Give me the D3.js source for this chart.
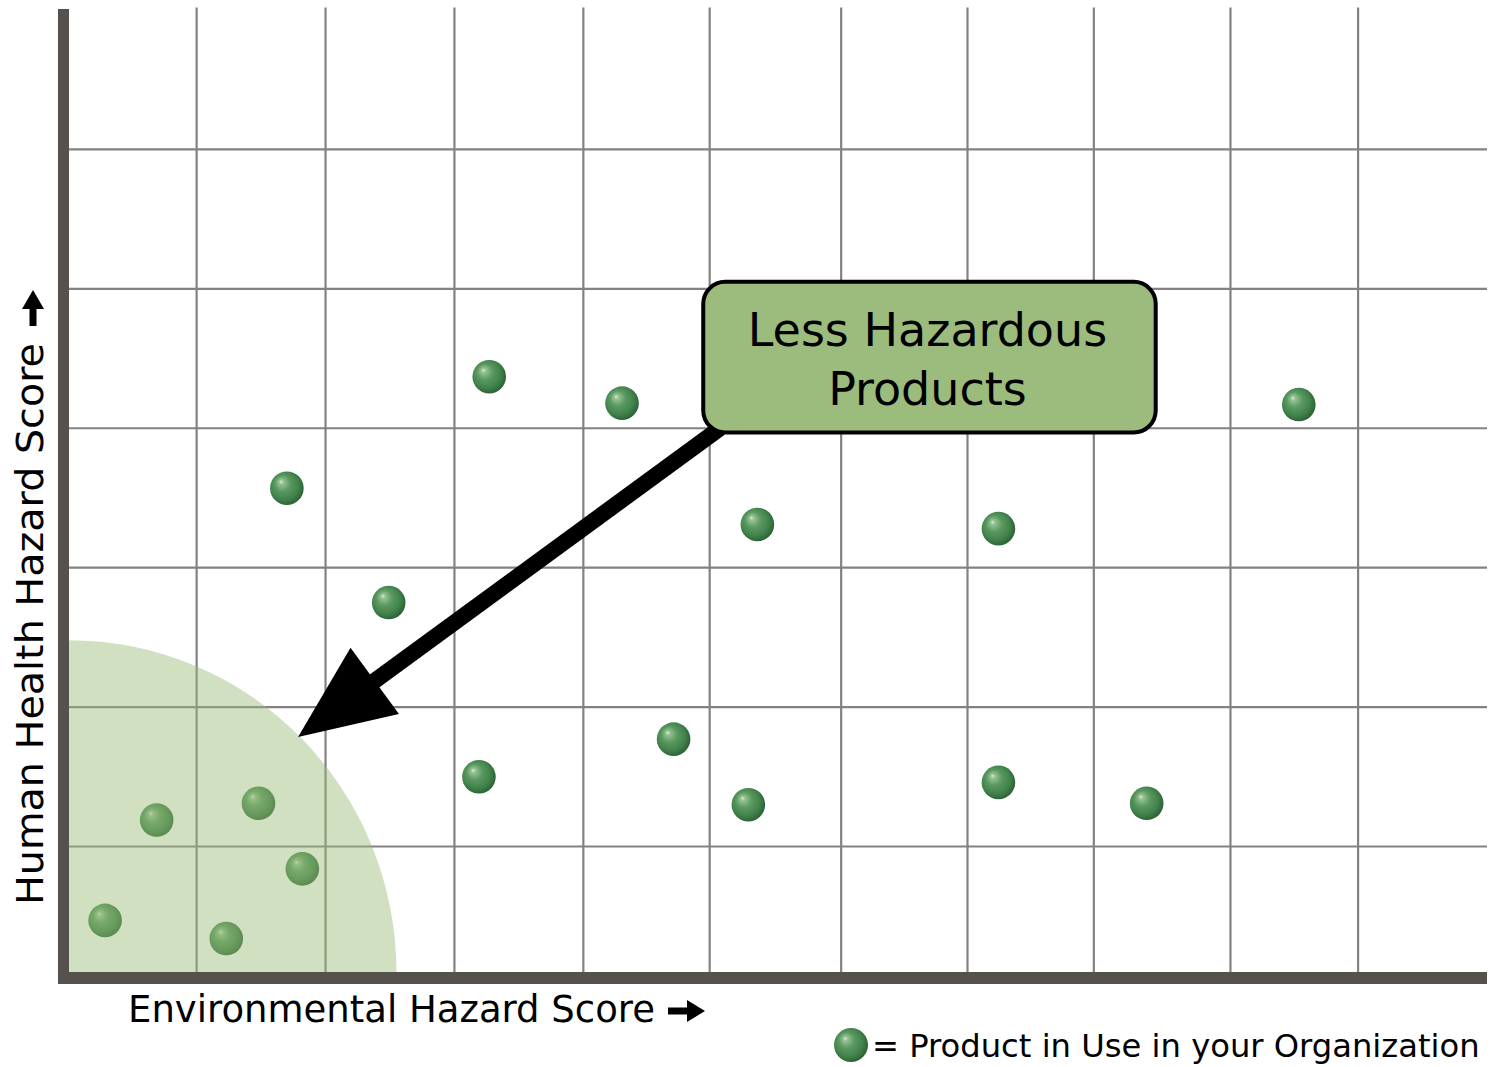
<!DOCTYPE html>
<html>
<head>
<meta charset="utf-8">
<script src="https://cdn.jsdelivr.net/npm/d3@7"></script>
<style>
  html, body { margin: 0; padding: 0; background: #fff; }
  svg { display: block; font-family: "DejaVu Sans", Verdana, sans-serif; }
</style>
</head>
<body>
<svg id="chart" width="1493" height="1067"></svg>
<script>
// ---- data ----
const productsEnv    = [3.26, 4.29, 1.69, 5.34, 7.21, 9.54, 2.48, 4.69, 3.18, 5.27, 7.21, 8.36, 0.68, 1.47, 1.81, 0.28, 1.22];
const productsHealth = [4.37, 4.18, 3.57, 3.31, 3.28, 4.17, 2.75, 1.77, 1.50, 1.30, 1.46, 1.31, 1.19, 1.31, 0.84, 0.47, 0.34];
const xGridValues = [0.99, 1.99, 2.99, 3.99, 4.97, 5.99, 6.97, 7.95, 9.01, 10.0];
const yGridValues = [1, 2, 3, 4, 5, 6];
const xAxisLabel = "Environmental Hazard Score";
const yAxisLabel = "Human Health Hazard Score";
const calloutLines = ["Less Hazardous", "Products"];
const legendLabel = "= Product in Use in your Organization";
const safeZoneRadiusEnv = 2.54;
const safeZoneRadiusHealth = 2.38;
const calloutBox = { x0: 4.92, x1: 8.43, y0: 3.97, y1: 5.05 };
const arrowFrom = [5.05, 4.0];
const arrowTo = [1.777, 1.786];

// ---- layout ----
const svg = d3.select("#chart");
const plot = { left: 69, right: 1487, top: 8, bottom: 972 };
const x = d3.scaleLinear().domain([0, 11]).range([plot.left, plot.right]);
const y = d3.scaleLinear().domain([0.1, 7]).range([plot.bottom, 10]);

const defs = svg.append("defs");
const grad = defs.append("radialGradient").attr("id", "sphere")
  .attr("cx", "45%").attr("cy", "45%").attr("r", "58%")
  .attr("fx", "32%").attr("fy", "30%");
[["0%", "#dcebd9"], ["12%", "#94c191"], ["40%", "#5a9a61"], ["75%", "#40804a"], ["100%", "#2a5e34"]]
  .forEach(([o, c]) => grad.append("stop").attr("offset", o).attr("stop-color", c));
defs.append("clipPath").attr("id", "plotClip").append("rect")
  .attr("x", plot.left).attr("y", plot.top).attr("width", plot.right - plot.left).attr("height", plot.bottom - plot.top);

// grid
const grid = svg.append("g").attr("stroke", "#858081").attr("stroke-width", 2.2);
grid.selectAll("line.v").data(xGridValues).join("line").attr("class", "v")
  .attr("x1", d => x(d)).attr("x2", d => x(d)).attr("y1", 7.5).attr("y2", plot.bottom);
grid.selectAll("line.h").data(yGridValues).join("line").attr("class", "h")
  .attr("x1", plot.left).attr("x2", plot.right).attr("y1", d => y(d)).attr("y2", d => y(d));

// products
const r = 16.8;
svg.append("g").selectAll("circle").data(productsEnv.map((e, i) => [e, productsHealth[i]])).join("circle")
  .attr("cx", d => x(d[0])).attr("cy", d => y(d[1])).attr("r", r).attr("fill", "url(#sphere)");

// safe zone (quarter ellipse overlay)
const rx = x(safeZoneRadiusEnv) - x(0), ry = y(0.1) - y(0.1 + safeZoneRadiusHealth);
const cx0 = x(0), cy0 = y(0.1);
svg.append("path").attr("clip-path", "url(#plotClip)")
  .attr("d", `M${cx0},${cy0} L${cx0 + rx},${cy0} A${rx},${ry} 0 0 0 ${cx0},${cy0 - ry} Z`)
  .attr("fill", "#97bb73").attr("fill-opacity", 0.45);

// axes
const axisColor = "#55524d";
svg.append("rect").attr("x", 58).attr("y", 9).attr("width", 11).attr("height", 975).attr("fill", axisColor);
svg.append("rect").attr("x", 58).attr("y", plot.bottom).attr("width", plot.right - 58).attr("height", 12).attr("fill", axisColor);

// arrow
const ax0 = x(arrowFrom[0]), ay0 = y(arrowFrom[1]);
const ax1 = x(arrowTo[0]), ay1 = y(arrowTo[1]);
const ang = Math.atan2(ay1 - ay0, ax1 - ax0);
const headLen = 95, headHalf = 41;
const bx = ax1 - headLen * Math.cos(ang), by = ay1 - headLen * Math.sin(ang);
svg.append("line").attr("x1", ax0).attr("y1", ay0).attr("x2", bx + 5 * Math.cos(ang)).attr("y2", by + 5 * Math.sin(ang))
  .attr("stroke", "#000").attr("stroke-width", 16);
const px = -Math.sin(ang), py = Math.cos(ang);
svg.append("path")
  .attr("d", `M${ax1},${ay1} L${bx + headHalf * px},${by + headHalf * py} L${bx - headHalf * px},${by - headHalf * py} Z`)
  .attr("fill", "#000");

// callout box
const bx0 = x(calloutBox.x0), bx1 = x(calloutBox.x1), by0 = y(calloutBox.y1), by1 = y(calloutBox.y0);
svg.append("rect").attr("x", bx0).attr("y", by0).attr("width", bx1 - bx0).attr("height", by1 - by0)
  .attr("rx", 22).attr("ry", 22).attr("fill", "#9bbc7c").attr("stroke", "#000").attr("stroke-width", 4);
svg.append("g").selectAll("text").data(calloutLines).join("text")
  .attr("x", (bx0 + bx1) / 2 - 2).attr("y", (d, i) => by0 + 64 + i * 59)
  .attr("text-anchor", "middle").attr("font-size", 46).attr("fill", "#000").text(d => d);

// x-axis label
svg.append("text").attr("x", 128).attr("y", 1022).attr("font-size", 37).attr("fill", "#000").text(xAxisLabel);
svg.append("path").attr("d", "M668,1011 L690,1011").attr("stroke", "#000").attr("stroke-width", 7);
svg.append("path").attr("d", "M687,1000 L705,1011 L687,1022 Z").attr("fill", "#000");

// y-axis label
svg.append("text").attr("transform", "translate(43,905) rotate(-90)")
  .attr("font-size", 37).attr("fill", "#000").attr("textLength", 562).attr("lengthAdjust", "spacingAndGlyphs").text(yAxisLabel);
svg.append("path").attr("d", "M33,326 L33,306").attr("stroke", "#000").attr("stroke-width", 7);
svg.append("path").attr("d", "M22,309 L33,290 L44,309 Z").attr("fill", "#000");

// legend
svg.append("circle").attr("cx", 851).attr("cy", 1045).attr("r", 17).attr("fill", "url(#sphere)");
svg.append("text").attr("x", 872).attr("y", 1057).attr("font-size", 32.2)
  .attr("fill", "#000").text(legendLabel);
</script>
</body>
</html>
